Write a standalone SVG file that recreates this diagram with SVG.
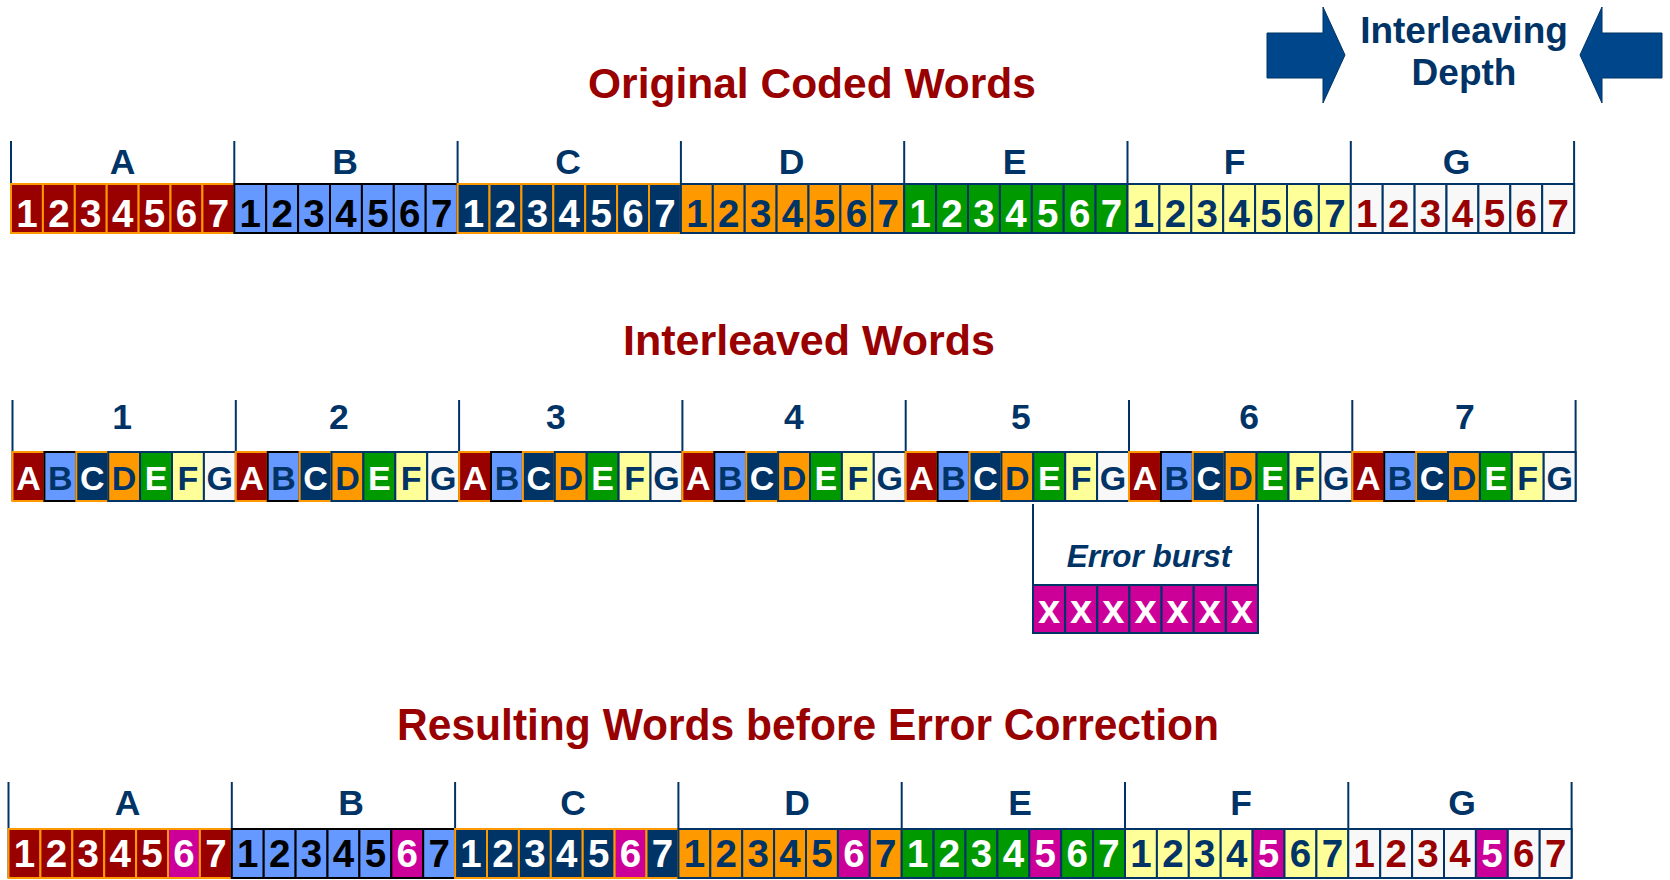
<svg xmlns="http://www.w3.org/2000/svg" width="1670" height="880" viewBox="0 0 1670 880">
<style>
text{font-family:"Liberation Sans",Arial,Helvetica,sans-serif;font-weight:bold;text-anchor:middle}
.h{font-size:35.5px;fill:#003366}
.n{font-size:38.5px}
.l{font-size:34px}
.xx{font-size:40px}
.ttl{font-size:42.5px;fill:#990000}
.dep{font-size:37px;fill:#003366}
.eb{font-size:31.5px;font-style:italic;fill:#003366}
rect{stroke-width:2}
.cA{fill:#990000;stroke:#FF9900}
.cB{fill:#6699FF;stroke:#000000}
.cC{fill:#003366;stroke:#FF9900}
.cD{fill:#FF9900;stroke:#003366}
.cE{fill:#009900;stroke:#003366}
.cF{fill:#FFFF99;stroke:#003366}
.cG{fill:#F8F8F8;stroke:#003366}
rect.x{fill:#CC0099}
.cX{fill:#CC0099;stroke:#003366}
.tW{fill:#ffffff}.tK{fill:#000000}.tN{fill:#003366}.tR{fill:#990000}
.dv{stroke:#003366;stroke-width:2;fill:none}
.arr{fill:#00468B;stroke:#003366;stroke-width:1}
</style>

<text class="ttl" x="812" y="98">Original Coded Words</text>
<text class="ttl" x="809" y="355" style="font-size:43px">Interleaved Words</text>
<text class="ttl" x="808" y="740" style="font-size:44px" textLength="822" lengthAdjust="spacingAndGlyphs">Resulting Words before Error Correction</text>

<g id="interleaving-depth">
<polygon class="arr" points="1267,33 1323,33 1323,7 1345,55 1323,103 1323,78 1267,78"/>
<polygon class="arr" points="1662,33 1602,33 1602,7 1580,55 1602,103 1602,78 1662,78"/>
<text class="dep" x="1464" y="43">Interleaving</text>
<text class="dep" x="1464" y="85">Depth</text>
</g>

<g id="connectors">
<line class="dv" x1="11" y1="141" x2="11" y2="233"/><line class="dv" x1="234.3" y1="141" x2="234.3" y2="233"/><line class="dv" x1="457.6" y1="141" x2="457.6" y2="233"/><line class="dv" x1="680.9" y1="141" x2="680.9" y2="233"/><line class="dv" x1="904.2" y1="141" x2="904.2" y2="233"/><line class="dv" x1="1127.5" y1="141" x2="1127.5" y2="233"/><line class="dv" x1="1350.8" y1="141" x2="1350.8" y2="233"/><line class="dv" x1="1574.1" y1="141" x2="1574.1" y2="233"/>
<line class="dv" x1="12.5" y1="400" x2="12.5" y2="501"/><line class="dv" x1="235.8" y1="400" x2="235.8" y2="501"/><line class="dv" x1="459.1" y1="400" x2="459.1" y2="501"/><line class="dv" x1="682.4" y1="400" x2="682.4" y2="501"/><line class="dv" x1="905.7" y1="400" x2="905.7" y2="501"/><line class="dv" x1="1129" y1="400" x2="1129" y2="501"/><line class="dv" x1="1352.3" y1="400" x2="1352.3" y2="501"/><line class="dv" x1="1575.6" y1="400" x2="1575.6" y2="501"/>
<line class="dv" x1="8.5" y1="782" x2="8.5" y2="878"/><line class="dv" x1="231.8" y1="782" x2="231.8" y2="878"/><line class="dv" x1="455.1" y1="782" x2="455.1" y2="878"/><line class="dv" x1="678.4" y1="782" x2="678.4" y2="878"/><line class="dv" x1="901.7" y1="782" x2="901.7" y2="878"/><line class="dv" x1="1125" y1="782" x2="1125" y2="878"/><line class="dv" x1="1348.3" y1="782" x2="1348.3" y2="878"/><line class="dv" x1="1571.6" y1="782" x2="1571.6" y2="878"/>
<line class="dv" x1="1033" y1="504" x2="1033" y2="633"/><line class="dv" x1="1258" y1="504" x2="1258" y2="633"/>
</g>

<!-- Row 1: original coded words -->
<g id="orig-A" transform="translate(11,184)">
<text class="h" x="111.5" y="-10.5">A</text>
<rect class="cA" x="0" width="31.9" height="49"/><rect class="cA" x="31.9" width="31.9" height="49"/><rect class="cA" x="63.8" width="31.9" height="49"/><rect class="cA" x="95.7" width="31.9" height="49"/><rect class="cA" x="127.6" width="31.9" height="49"/><rect class="cA" x="159.5" width="31.9" height="49"/><rect class="cA" x="191.4" width="31.9" height="49"/>
<text class="n tW" x="15.95" y="43">1</text><text class="n tW" x="47.85" y="43">2</text><text class="n tW" x="79.75" y="43">3</text><text class="n tW" x="111.65" y="43">4</text><text class="n tW" x="143.55" y="43">5</text><text class="n tW" x="175.45" y="43">6</text><text class="n tW" x="207.35" y="43">7</text>
</g>
<g id="orig-B" transform="translate(234.3,184)">
<text class="h" x="110.7" y="-10.5">B</text>
<rect class="cB" x="0" width="31.9" height="49"/><rect class="cB" x="31.9" width="31.9" height="49"/><rect class="cB" x="63.8" width="31.9" height="49"/><rect class="cB" x="95.7" width="31.9" height="49"/><rect class="cB" x="127.6" width="31.9" height="49"/><rect class="cB" x="159.5" width="31.9" height="49"/><rect class="cB" x="191.4" width="31.9" height="49"/>
<text class="n tK" x="15.95" y="43">1</text><text class="n tK" x="47.85" y="43">2</text><text class="n tK" x="79.75" y="43">3</text><text class="n tK" x="111.65" y="43">4</text><text class="n tK" x="143.55" y="43">5</text><text class="n tK" x="175.45" y="43">6</text><text class="n tK" x="207.35" y="43">7</text>
</g>
<g id="orig-C" transform="translate(457.6,184)">
<text class="h" x="110.4" y="-10.5">C</text>
<rect class="cC" x="0" width="31.9" height="49"/><rect class="cC" x="31.9" width="31.9" height="49"/><rect class="cC" x="63.8" width="31.9" height="49"/><rect class="cC" x="95.7" width="31.9" height="49"/><rect class="cC" x="127.6" width="31.9" height="49"/><rect class="cC" x="159.5" width="31.9" height="49"/><rect class="cC" x="191.4" width="31.9" height="49"/>
<text class="n tW" x="15.95" y="43">1</text><text class="n tW" x="47.85" y="43">2</text><text class="n tW" x="79.75" y="43">3</text><text class="n tW" x="111.65" y="43">4</text><text class="n tW" x="143.55" y="43">5</text><text class="n tW" x="175.45" y="43">6</text><text class="n tW" x="207.35" y="43">7</text>
</g>
<g id="orig-D" transform="translate(680.9,184)">
<text class="h" x="110.6" y="-10.5">D</text>
<rect class="cD" x="0" width="31.9" height="49"/><rect class="cD" x="31.9" width="31.9" height="49"/><rect class="cD" x="63.8" width="31.9" height="49"/><rect class="cD" x="95.7" width="31.9" height="49"/><rect class="cD" x="127.6" width="31.9" height="49"/><rect class="cD" x="159.5" width="31.9" height="49"/><rect class="cD" x="191.4" width="31.9" height="49"/>
<text class="n tN" x="15.95" y="43">1</text><text class="n tN" x="47.85" y="43">2</text><text class="n tN" x="79.75" y="43">3</text><text class="n tN" x="111.65" y="43">4</text><text class="n tN" x="143.55" y="43">5</text><text class="n tN" x="175.45" y="43">6</text><text class="n tN" x="207.35" y="43">7</text>
</g>
<g id="orig-E" transform="translate(904.2,184)">
<text class="h" x="110.3" y="-10.5">E</text>
<rect class="cE" x="0" width="31.9" height="49"/><rect class="cE" x="31.9" width="31.9" height="49"/><rect class="cE" x="63.8" width="31.9" height="49"/><rect class="cE" x="95.7" width="31.9" height="49"/><rect class="cE" x="127.6" width="31.9" height="49"/><rect class="cE" x="159.5" width="31.9" height="49"/><rect class="cE" x="191.4" width="31.9" height="49"/>
<text class="n tW" x="15.95" y="43">1</text><text class="n tW" x="47.85" y="43">2</text><text class="n tW" x="79.75" y="43">3</text><text class="n tW" x="111.65" y="43">4</text><text class="n tW" x="143.55" y="43">5</text><text class="n tW" x="175.45" y="43">6</text><text class="n tW" x="207.35" y="43">7</text>
</g>
<g id="orig-F" transform="translate(1127.5,184)">
<text class="h" x="107" y="-10.5">F</text>
<rect class="cF" x="0" width="31.9" height="49"/><rect class="cF" x="31.9" width="31.9" height="49"/><rect class="cF" x="63.8" width="31.9" height="49"/><rect class="cF" x="95.7" width="31.9" height="49"/><rect class="cF" x="127.6" width="31.9" height="49"/><rect class="cF" x="159.5" width="31.9" height="49"/><rect class="cF" x="191.4" width="31.9" height="49"/>
<text class="n tN" x="15.95" y="43">1</text><text class="n tN" x="47.85" y="43">2</text><text class="n tN" x="79.75" y="43">3</text><text class="n tN" x="111.65" y="43">4</text><text class="n tN" x="143.55" y="43">5</text><text class="n tN" x="175.45" y="43">6</text><text class="n tN" x="207.35" y="43">7</text>
</g>
<g id="orig-G" transform="translate(1350.8,184)">
<text class="h" x="105.7" y="-10.5">G</text>
<rect class="cG" x="0" width="31.9" height="49"/><rect class="cG" x="31.9" width="31.9" height="49"/><rect class="cG" x="63.8" width="31.9" height="49"/><rect class="cG" x="95.7" width="31.9" height="49"/><rect class="cG" x="127.6" width="31.9" height="49"/><rect class="cG" x="159.5" width="31.9" height="49"/><rect class="cG" x="191.4" width="31.9" height="49"/>
<text class="n tR" x="15.95" y="43">1</text><text class="n tR" x="47.85" y="43">2</text><text class="n tR" x="79.75" y="43">3</text><text class="n tR" x="111.65" y="43">4</text><text class="n tR" x="143.55" y="43">5</text><text class="n tR" x="175.45" y="43">6</text><text class="n tR" x="207.35" y="43">7</text>
</g>

<!-- Row 2: interleaved words -->
<g id="inter-1" transform="translate(12.5,452)">
<text class="h" x="109.5" y="-23">1</text>
<rect class="cA" x="0" width="31.9" height="49"/><rect class="cB" x="31.9" width="31.9" height="49"/><rect class="cC" x="63.8" width="31.9" height="49"/><rect class="cD" x="95.7" width="31.9" height="49"/><rect class="cE" x="127.6" width="31.9" height="49"/><rect class="cF" x="159.5" width="31.9" height="49"/><rect class="cG" x="191.4" width="31.9" height="49"/>
<text class="l tW" x="15.95" y="38">A</text><text class="l tN" x="47.85" y="38">B</text><text class="l tW" x="79.75" y="38">C</text><text class="l tN" x="111.65" y="38">D</text><text class="l tW" x="143.55" y="38">E</text><text class="l tN" x="175.45" y="38">F</text><text class="l tN" x="207.35" y="38">G</text>
</g>
<g id="inter-2" transform="translate(235.8,452)">
<text class="h" x="103.2" y="-23">2</text>
<rect class="cA" x="0" width="31.9" height="49"/><rect class="cB" x="31.9" width="31.9" height="49"/><rect class="cC" x="63.8" width="31.9" height="49"/><rect class="cD" x="95.7" width="31.9" height="49"/><rect class="cE" x="127.6" width="31.9" height="49"/><rect class="cF" x="159.5" width="31.9" height="49"/><rect class="cG" x="191.4" width="31.9" height="49"/>
<text class="l tW" x="15.95" y="38">A</text><text class="l tN" x="47.85" y="38">B</text><text class="l tW" x="79.75" y="38">C</text><text class="l tN" x="111.65" y="38">D</text><text class="l tW" x="143.55" y="38">E</text><text class="l tN" x="175.45" y="38">F</text><text class="l tN" x="207.35" y="38">G</text>
</g>
<g id="inter-3" transform="translate(459.1,452)">
<text class="h" x="96.9" y="-23">3</text>
<rect class="cA" x="0" width="31.9" height="49"/><rect class="cB" x="31.9" width="31.9" height="49"/><rect class="cC" x="63.8" width="31.9" height="49"/><rect class="cD" x="95.7" width="31.9" height="49"/><rect class="cE" x="127.6" width="31.9" height="49"/><rect class="cF" x="159.5" width="31.9" height="49"/><rect class="cG" x="191.4" width="31.9" height="49"/>
<text class="l tW" x="15.95" y="38">A</text><text class="l tN" x="47.85" y="38">B</text><text class="l tW" x="79.75" y="38">C</text><text class="l tN" x="111.65" y="38">D</text><text class="l tW" x="143.55" y="38">E</text><text class="l tN" x="175.45" y="38">F</text><text class="l tN" x="207.35" y="38">G</text>
</g>
<g id="inter-4" transform="translate(682.4,452)">
<text class="h" x="111.6" y="-23">4</text>
<rect class="cA" x="0" width="31.9" height="49"/><rect class="cB" x="31.9" width="31.9" height="49"/><rect class="cC" x="63.8" width="31.9" height="49"/><rect class="cD" x="95.7" width="31.9" height="49"/><rect class="cE" x="127.6" width="31.9" height="49"/><rect class="cF" x="159.5" width="31.9" height="49"/><rect class="cG" x="191.4" width="31.9" height="49"/>
<text class="l tW" x="15.95" y="38">A</text><text class="l tN" x="47.85" y="38">B</text><text class="l tW" x="79.75" y="38">C</text><text class="l tN" x="111.65" y="38">D</text><text class="l tW" x="143.55" y="38">E</text><text class="l tN" x="175.45" y="38">F</text><text class="l tN" x="207.35" y="38">G</text>
</g>
<g id="inter-5" transform="translate(905.7,452)">
<text class="h" x="115.3" y="-23">5</text>
<rect class="cA" x="0" width="31.9" height="49"/><rect class="cB" x="31.9" width="31.9" height="49"/><rect class="cC" x="63.8" width="31.9" height="49"/><rect class="cD" x="95.7" width="31.9" height="49"/><rect class="cE" x="127.6" width="31.9" height="49"/><rect class="cF" x="159.5" width="31.9" height="49"/><rect class="cG" x="191.4" width="31.9" height="49"/>
<text class="l tW" x="15.95" y="38">A</text><text class="l tN" x="47.85" y="38">B</text><text class="l tW" x="79.75" y="38">C</text><text class="l tN" x="111.65" y="38">D</text><text class="l tW" x="143.55" y="38">E</text><text class="l tN" x="175.45" y="38">F</text><text class="l tN" x="207.35" y="38">G</text>
</g>
<g id="inter-6" transform="translate(1129,452)">
<text class="h" x="120" y="-23">6</text>
<rect class="cA" x="0" width="31.9" height="49"/><rect class="cB" x="31.9" width="31.9" height="49"/><rect class="cC" x="63.8" width="31.9" height="49"/><rect class="cD" x="95.7" width="31.9" height="49"/><rect class="cE" x="127.6" width="31.9" height="49"/><rect class="cF" x="159.5" width="31.9" height="49"/><rect class="cG" x="191.4" width="31.9" height="49"/>
<text class="l tW" x="15.95" y="38">A</text><text class="l tN" x="47.85" y="38">B</text><text class="l tW" x="79.75" y="38">C</text><text class="l tN" x="111.65" y="38">D</text><text class="l tW" x="143.55" y="38">E</text><text class="l tN" x="175.45" y="38">F</text><text class="l tN" x="207.35" y="38">G</text>
</g>
<g id="inter-7" transform="translate(1352.3,452)">
<text class="h" x="112.7" y="-23">7</text>
<rect class="cA" x="0" width="31.9" height="49"/><rect class="cB" x="31.9" width="31.9" height="49"/><rect class="cC" x="63.8" width="31.9" height="49"/><rect class="cD" x="95.7" width="31.9" height="49"/><rect class="cE" x="127.6" width="31.9" height="49"/><rect class="cF" x="159.5" width="31.9" height="49"/><rect class="cG" x="191.4" width="31.9" height="49"/>
<text class="l tW" x="15.95" y="38">A</text><text class="l tN" x="47.85" y="38">B</text><text class="l tW" x="79.75" y="38">C</text><text class="l tN" x="111.65" y="38">D</text><text class="l tW" x="143.55" y="38">E</text><text class="l tN" x="175.45" y="38">F</text><text class="l tN" x="207.35" y="38">G</text>
</g>

<!-- Error burst -->
<g id="error-burst">
<text class="eb" x="1149" y="567">Error burst</text>
<g transform="translate(1033,585)">
<rect class="cX" x="0" width="32.14" height="48"/><rect class="cX" x="32.14" width="32.14" height="48"/><rect class="cX" x="64.29" width="32.14" height="48"/><rect class="cX" x="96.43" width="32.14" height="48"/><rect class="cX" x="128.57" width="32.14" height="48"/><rect class="cX" x="160.71" width="32.14" height="48"/><rect class="cX" x="192.86" width="32.14" height="48"/>
<text class="xx tW" x="16.07" y="38">x</text><text class="xx tW" x="48.21" y="38">x</text><text class="xx tW" x="80.36" y="38">x</text><text class="xx tW" x="112.5" y="38">x</text><text class="xx tW" x="144.64" y="38">x</text><text class="xx tW" x="176.79" y="38">x</text><text class="xx tW" x="208.93" y="38">x</text>
</g>
</g>

<!-- Row 3: resulting words -->
<g id="result-A" transform="translate(8.5,829)">
<text class="h" x="119" y="-14">A</text>
<rect class="cA" x="0" width="31.9" height="49"/><rect class="cA" x="31.9" width="31.9" height="49"/><rect class="cA" x="63.8" width="31.9" height="49"/><rect class="cA" x="95.7" width="31.9" height="49"/><rect class="cA" x="127.6" width="31.9" height="49"/><rect class="cA x" x="159.5" width="31.9" height="49"/><rect class="cA" x="191.4" width="31.9" height="49"/>
<text class="n tW" x="15.95" y="38">1</text><text class="n tW" x="47.85" y="38">2</text><text class="n tW" x="79.75" y="38">3</text><text class="n tW" x="111.65" y="38">4</text><text class="n tW" x="143.55" y="38">5</text><text class="n tW" x="175.45" y="38">6</text><text class="n tW" x="207.35" y="38">7</text>
</g>
<g id="result-B" transform="translate(231.8,829)">
<text class="h" x="119.2" y="-14">B</text>
<rect class="cB" x="0" width="31.9" height="49"/><rect class="cB" x="31.9" width="31.9" height="49"/><rect class="cB" x="63.8" width="31.9" height="49"/><rect class="cB" x="95.7" width="31.9" height="49"/><rect class="cB" x="127.6" width="31.9" height="49"/><rect class="cB x" x="159.5" width="31.9" height="49"/><rect class="cB" x="191.4" width="31.9" height="49"/>
<text class="n tK" x="15.95" y="38">1</text><text class="n tK" x="47.85" y="38">2</text><text class="n tK" x="79.75" y="38">3</text><text class="n tK" x="111.65" y="38">4</text><text class="n tK" x="143.55" y="38">5</text><text class="n tW" x="175.45" y="38">6</text><text class="n tK" x="207.35" y="38">7</text>
</g>
<g id="result-C" transform="translate(455.1,829)">
<text class="h" x="117.9" y="-14">C</text>
<rect class="cC" x="0" width="31.9" height="49"/><rect class="cC" x="31.9" width="31.9" height="49"/><rect class="cC" x="63.8" width="31.9" height="49"/><rect class="cC" x="95.7" width="31.9" height="49"/><rect class="cC" x="127.6" width="31.9" height="49"/><rect class="cC x" x="159.5" width="31.9" height="49"/><rect class="cC" x="191.4" width="31.9" height="49"/>
<text class="n tW" x="15.95" y="38">1</text><text class="n tW" x="47.85" y="38">2</text><text class="n tW" x="79.75" y="38">3</text><text class="n tW" x="111.65" y="38">4</text><text class="n tW" x="143.55" y="38">5</text><text class="n tW" x="175.45" y="38">6</text><text class="n tW" x="207.35" y="38">7</text>
</g>
<g id="result-D" transform="translate(678.4,829)">
<text class="h" x="118.6" y="-14">D</text>
<rect class="cD" x="0" width="31.9" height="49"/><rect class="cD" x="31.9" width="31.9" height="49"/><rect class="cD" x="63.8" width="31.9" height="49"/><rect class="cD" x="95.7" width="31.9" height="49"/><rect class="cD" x="127.6" width="31.9" height="49"/><rect class="cD x" x="159.5" width="31.9" height="49"/><rect class="cD" x="191.4" width="31.9" height="49"/>
<text class="n tN" x="15.95" y="38">1</text><text class="n tN" x="47.85" y="38">2</text><text class="n tN" x="79.75" y="38">3</text><text class="n tN" x="111.65" y="38">4</text><text class="n tN" x="143.55" y="38">5</text><text class="n tW" x="175.45" y="38">6</text><text class="n tN" x="207.35" y="38">7</text>
</g>
<g id="result-E" transform="translate(901.7,829)">
<text class="h" x="118.3" y="-14">E</text>
<rect class="cE" x="0" width="31.9" height="49"/><rect class="cE" x="31.9" width="31.9" height="49"/><rect class="cE" x="63.8" width="31.9" height="49"/><rect class="cE" x="95.7" width="31.9" height="49"/><rect class="cE x" x="127.6" width="31.9" height="49"/><rect class="cE" x="159.5" width="31.9" height="49"/><rect class="cE" x="191.4" width="31.9" height="49"/>
<text class="n tW" x="15.95" y="38">1</text><text class="n tW" x="47.85" y="38">2</text><text class="n tW" x="79.75" y="38">3</text><text class="n tW" x="111.65" y="38">4</text><text class="n tW" x="143.55" y="38">5</text><text class="n tW" x="175.45" y="38">6</text><text class="n tW" x="207.35" y="38">7</text>
</g>
<g id="result-F" transform="translate(1125,829)">
<text class="h" x="116" y="-14">F</text>
<rect class="cF" x="0" width="31.9" height="49"/><rect class="cF" x="31.9" width="31.9" height="49"/><rect class="cF" x="63.8" width="31.9" height="49"/><rect class="cF" x="95.7" width="31.9" height="49"/><rect class="cF x" x="127.6" width="31.9" height="49"/><rect class="cF" x="159.5" width="31.9" height="49"/><rect class="cF" x="191.4" width="31.9" height="49"/>
<text class="n tN" x="15.95" y="38">1</text><text class="n tN" x="47.85" y="38">2</text><text class="n tN" x="79.75" y="38">3</text><text class="n tN" x="111.65" y="38">4</text><text class="n tW" x="143.55" y="38">5</text><text class="n tN" x="175.45" y="38">6</text><text class="n tN" x="207.35" y="38">7</text>
</g>
<g id="result-G" transform="translate(1348.3,829)">
<text class="h" x="113.7" y="-14">G</text>
<rect class="cG" x="0" width="31.9" height="49"/><rect class="cG" x="31.9" width="31.9" height="49"/><rect class="cG" x="63.8" width="31.9" height="49"/><rect class="cG" x="95.7" width="31.9" height="49"/><rect class="cG x" x="127.6" width="31.9" height="49"/><rect class="cG" x="159.5" width="31.9" height="49"/><rect class="cG" x="191.4" width="31.9" height="49"/>
<text class="n tR" x="15.95" y="38">1</text><text class="n tR" x="47.85" y="38">2</text><text class="n tR" x="79.75" y="38">3</text><text class="n tR" x="111.65" y="38">4</text><text class="n tW" x="143.55" y="38">5</text><text class="n tR" x="175.45" y="38">6</text><text class="n tR" x="207.35" y="38">7</text>
</g>
</svg>
